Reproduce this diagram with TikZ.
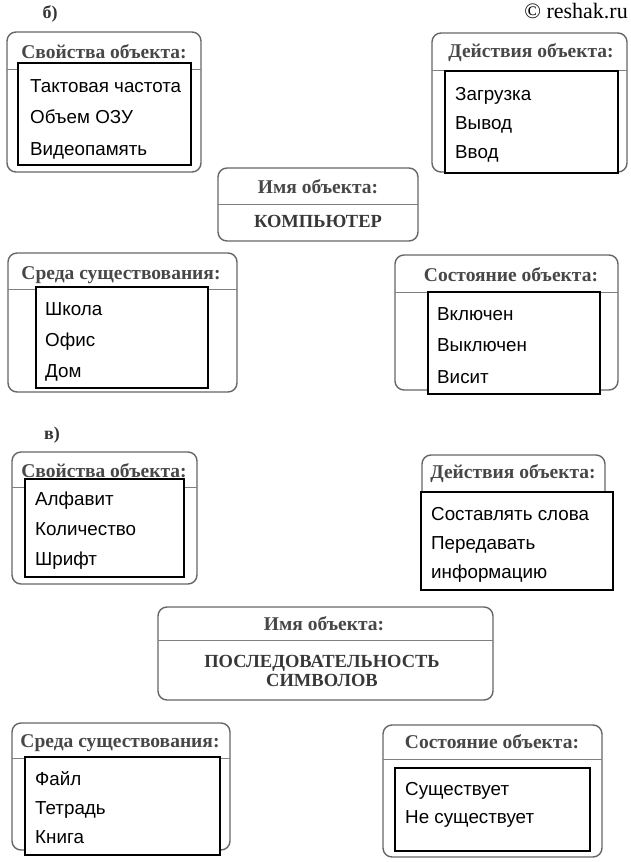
\documentclass[tikz,border=0pt]{standalone}
\usepackage{fontspec}
\newfontfamily\headfam{Liberation Serif}
\newfontfamily\itemfam{Liberation Sans}
\usepackage{tikz}

\begin{document}
\begin{tikzpicture}[x=1pt,y=-1pt]
  \tikzstyle{outer}=[draw=black!60,line width=1.4pt,rounded corners=9pt]
  \tikzstyle{sep}=[draw=black!50,line width=0.8pt]
  \tikzstyle{inner}=[draw=black,fill=white,line width=1.4pt]
  \tikzstyle{head}=[font=\headfam\bfseries\fontsize{19.5}{22}\selectfont,text=black!72,anchor=base,inner sep=0pt]
  \tikzstyle{title}=[font=\headfam\bfseries\fontsize{18.5}{20}\selectfont,text=black!78,anchor=base,inner sep=0pt]
  \tikzstyle{item}=[font=\itemfam\fontsize{18.8}{21}\selectfont,anchor=base west,inner sep=0pt]
  \tikzstyle{lbl}=[font=\headfam\bfseries\fontsize{18}{20}\selectfont,text=black!80,anchor=base,inner sep=0pt]
  \useasboundingbox (0,0) rectangle (630,862);

  \node[lbl] (partB) at (50,18) {б)};
  \node[font=\headfam\fontsize{22}{24}\selectfont,anchor=base east,inner sep=0pt] (copy) at (628,19) {© reshak.ru};

  % б) свойства
  \draw[outer] (7,32) rectangle (201,172);
  \draw[sep] (7,69) -- (201,69);
  \node[head] (propB) at (104,58) {Свойства объекта:};
  \draw[inner] (18,63) rectangle (191,165);
  \foreach \t [count=\i] in {Тактовая частота,Объем ОЗУ,Видеопамять}
    \node[item] (propB\i) at (30,{92+31.5*(\i-1)}) {\t};

  % б) действия
  \draw[outer] (432,33) rectangle (627,172);
  \draw[sep] (432,70) -- (627,70);
  \node[head] (actB) at (531,57) {Действия объекта:};
  \draw[inner] (445,71) rectangle (618,173);
  \foreach \t [count=\i] in {Загрузка,Вывод,Ввод}
    \node[item] (actB\i) at (455,{100+29*(\i-1)}) {\t};

  % б) имя
  \draw[outer] (218,168) rectangle (418,241);
  \draw[sep] (218,204) -- (418,204);
  \node[head] (nameB) at (318,193) {Имя объекта:};
  \node[title] (nameB1) at (318,227) {КОМПЬЮТЕР};

  % б) среда
  \draw[outer] (8,253) rectangle (237,392);
  \draw[sep] (8,289) -- (237,289);
  \node[head] (envB) at (121,279) {Среда существования:};
  \draw[inner] (36,287) rectangle (208,388);
  \foreach \t [count=\i] in {Школа,Офис,Дом}
    \node[item] (envB\i) at (45,{315+31*(\i-1)}) {\t};

  % б) состояние
  \draw[outer] (395,255) rectangle (618,390);
  \draw[sep] (395,292) -- (618,292);
  \node[head] (stateB) at (511,281) {Состояние объекта:};
  \draw[inner] (428,292) rectangle (600,394);
  \foreach \t [count=\i] in {Включен,Выключен,Висит}
    \node[item] (stateB\i) at (437,{320+31.5*(\i-1)}) {\t};

  \node[lbl] (partV) at (52,439) {в)};

  % в) свойства
  \draw[outer] (12,452) rectangle (197,584);
  \draw[sep] (12,487) -- (197,487);
  \node[head] (propV) at (104,477) {Свойства объекта:};
  \draw[inner] (25,479) rectangle (184,577);
  \foreach \t [count=\i] in {Алфавит,Количество,Шрифт}
    \node[item] (propV\i) at (35,{505+30*(\i-1)}) {\t};

  % в) действия
  \draw[outer] (422,455) rectangle (605,585);
  \draw[sep] (422,492) -- (605,492);
  \node[head] (actV) at (513,478) {Действия объекта:};
  \draw[inner] (421,492) rectangle (613,590);
  \foreach \t [count=\i] in {Составлять слова,Передавать,информацию}
    \node[item] (actV\i) at (431,{520+29*(\i-1)}) {\t};

  % в) имя
  \draw[outer] (158,607) rectangle (493,700);
  \draw[sep] (158,640) -- (493,640);
  \node[head] (nameV) at (324,630) {Имя объекта:};
  \node[title] (nameV1) at (322,667) {ПОСЛЕДОВАТЕЛЬНОСТЬ};
  \node[title] (nameV2) at (322,686) {СИМВОЛОВ};

  % в) среда
  \draw[outer] (12,723) rectangle (230,850);
  \draw[sep] (12,758) -- (230,758);
  \node[head] (envV) at (120,747) {Среда существования:};
  \draw[inner] (25,757) rectangle (220,855);
  \foreach \t [count=\i] in {Файл,Тетрадь,Книга}
    \node[item] (envV\i) at (35,{785+29*(\i-1)}) {\t};

  % в) состояние
  \draw[outer] (383,725) rectangle (602,857);
  \draw[sep] (383,759) -- (602,759);
  \node[head] (stateV) at (492,748) {Состояние объекта:};
  \draw[inner] (395,768) rectangle (590,851);
  \foreach \t [count=\i] in {Существует,Не существует}
    \node[item] (stateV\i) at (405,{795+28*(\i-1)}) {\t};
\end{tikzpicture}
\end{document}
